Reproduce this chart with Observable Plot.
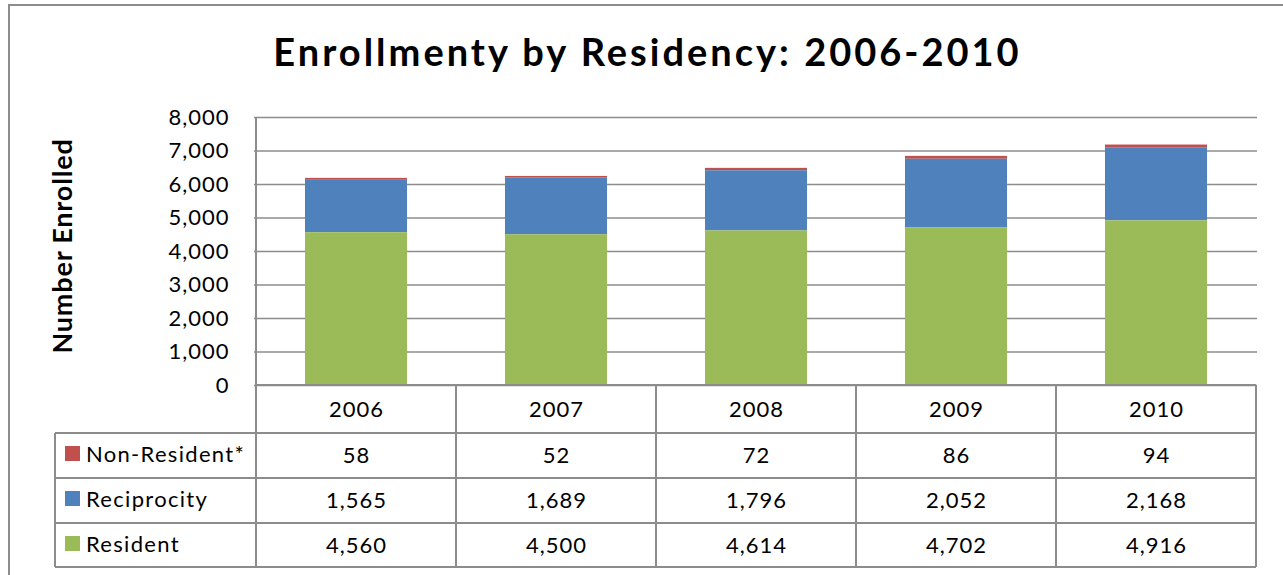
<!DOCTYPE html>
<html>
<head>
<meta charset="utf-8">
<script src="https://cdn.jsdelivr.net/npm/d3@7"></script>
<script src="https://cdn.jsdelivr.net/npm/@observablehq/plot@0.6"></script>
<style>
  html, body { margin: 0; padding: 0; background: #fff; }
  #wrap { position: relative; width: 1283px; height: 575px; overflow: hidden; font-family: Lato, "Open Sans", sans-serif; }
  #frame { position: absolute; left: 8px; top: 4px; width: 1400px; height: 700px; border: 2px solid #8c8c8c; box-sizing: border-box; }
  #title { position: absolute; left: 0; width: 1295px; top: 28px; text-align: center; font-weight: 700; font-size: 38px; letter-spacing: 3px; color: #000; white-space: nowrap; }
  #chart { position: absolute; left: 0; top: 0; }
  #chart svg text.num { letter-spacing: 1px; }
</style>
</head>
<body>
<div id="wrap">
  <div id="frame"></div>
  <div id="chart"></div>
  <div id="title">Enrollmenty by Residency: 2006-2010</div>
</div>
<script>
const years = ["2006", "2007", "2008", "2009", "2010"];
const seriesNames = ["Non-Resident*", "Reciprocity", "Resident"];
const nonResident = [58, 52, 72, 86, 94];
const reciprocity = [1565, 1689, 1796, 2052, 2168];
const resident = [4560, 4500, 4614, 4702, 4916];
const seriesColors = ["#C0504D", "#4F81BD", "#9BBB59"];
const yTicks = [0, 1000, 2000, 3000, 4000, 5000, 6000, 7000, 8000];
const yLabel = "Number Enrolled";

const seriesValues = [nonResident, reciprocity, resident];
const long = [];
seriesNames.forEach((s, i) => years.forEach((y, j) => long.push({year: y, series: s, value: seriesValues[i][j]})));

const fmt = d3.format(",");
const gridColor = "#8c8c8c";
const rowDy = [70, 115, 160];

const marks = [
  Plot.ruleY(yTicks, {stroke: gridColor, strokeWidth: 1.6}),
  Plot.barY(long, Plot.stackY({
    x: "year", y: "value", fill: "series",
    order: ["Resident", "Reciprocity", "Non-Resident*"]
  })),
  Plot.axisY({ticks: yTicks, tickSize: 0, tickPadding: 25, tickFormat: fmt, label: null,
    fontSize: 22, fill: "#000", fontFamily: "Lato", className: "num"}),
  Plot.text(years, {x: d => d, text: d => d, frameAnchor: "bottom", lineAnchor: "middle", dy: 24, fontSize: 22, fill: "#000", className: "num"})
];
seriesNames.forEach((s, i) => {
  marks.push(Plot.text(years.map((y, j) => ({year: y, v: seriesValues[i][j]})), {
    x: "year", text: d => fmt(d.v), frameAnchor: "bottom", lineAnchor: "middle", dy: rowDy[i], fontSize: 22, fill: "#000", className: "num"
  }));
});

const chart = Plot.plot({
  width: 1283,
  height: 575,
  marginLeft: 254,
  marginRight: 26,
  marginTop: 117,
  marginBottom: 190,
  style: {fontFamily: "Lato, 'Open Sans', sans-serif", background: "transparent", overflow: "visible"},
  x: {domain: years, paddingInner: 0.49, paddingOuter: 0.245, axis: null},
  y: {domain: [0, 8000], axis: null},
  color: {domain: seriesNames, range: seriesColors},
  marks
});
document.getElementById("chart").appendChild(chart);

// apply letter spacing to numeric labels
d3.select(chart).selectAll(".num text").attr("letter-spacing", "1px");

// data table grid, legend keys and y-axis title
const xs = chart.scale("x");
const step = xs.step;
const svg = d3.select(chart);
const left0 = xs.apply(years[0]) + xs.bandwidth / 2 - step / 2;
const right0 = left0 + step * years.length;
const y0 = chart.scale("y").apply(0);
const yTop = chart.scale("y").apply(8000);
const rowBounds = [y0, y0 + 48, y0 + 93, y0 + 138, y0 + 182];
const legendLeft = 55;
const g = svg.append("g").attr("stroke", gridColor).attr("stroke-width", 2).attr("fill", "none");
g.append("line").attr("x1", left0).attr("x2", left0).attr("y1", yTop).attr("y2", y0);
rowBounds.forEach((yy, i) => {
  g.append("line").attr("x1", i === 0 ? left0 : legendLeft).attr("x2", right0).attr("y1", yy).attr("y2", yy);
});
for (let k = 0; k <= years.length; k++) {
  const xx = left0 + k * step;
  g.append("line").attr("x1", xx).attr("x2", xx).attr("y1", y0).attr("y2", rowBounds[4]);
}
g.append("line").attr("x1", legendLeft).attr("x2", legendLeft).attr("y1", rowBounds[1]).attr("y2", rowBounds[4]);

const lg = svg.append("g").attr("font-family", "Lato, 'Open Sans', sans-serif").attr("font-size", 22).attr("text-anchor", "start").attr("letter-spacing", "1.3px");
seriesNames.forEach((s, i) => {
  const cy = y0 + rowDy[i];
  lg.append("rect").attr("x", 65).attr("y", cy - 9).attr("width", 15).attr("height", 15).attr("fill", seriesColors[i]);
  lg.append("text").attr("x", 86).attr("y", cy).attr("dy", "0.32em").attr("fill", "#000").text(s);
});

svg.append("text")
  .attr("transform", `translate(72,${(yTop + y0) / 2 - 5}) rotate(-90)`)
  .attr("text-anchor", "middle")
  .attr("font-family", "Lato, 'Open Sans', sans-serif")
  .attr("font-weight", 700)
  .attr("font-size", 27)
  .attr("letter-spacing", "0.8px")
  .attr("fill", "#000")
  .text(yLabel);
</script>
</body>
</html>
